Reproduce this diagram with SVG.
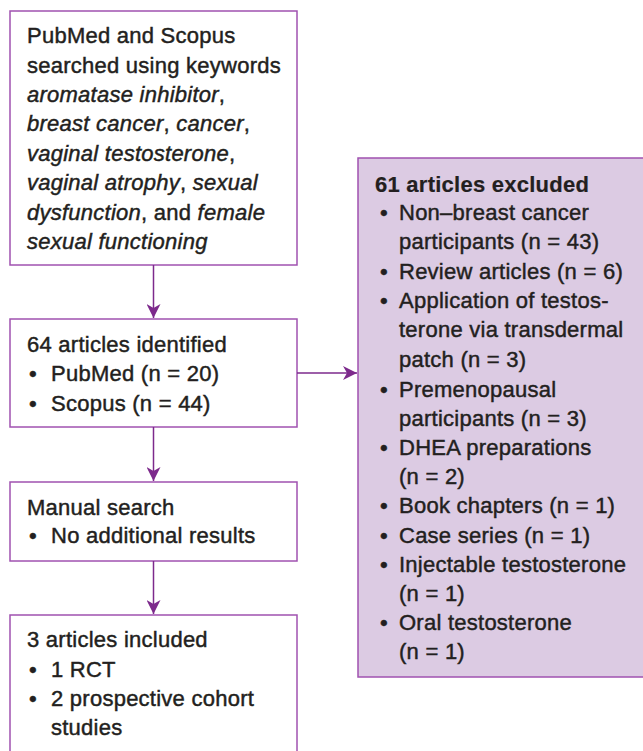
<svg xmlns="http://www.w3.org/2000/svg" width="643" height="751" viewBox="0 0 643 751">
<defs>
<marker id="ah" markerWidth="14" markerHeight="14" refX="14" refY="7" orient="auto" markerUnits="userSpaceOnUse">
<path d="M0,0 L14,7 L0,14 L4,7 Z" fill="#7d2a8c"/>
</marker>
<style>
.box{fill:#ffffff;stroke:#a052b0;stroke-width:1.5}
.ex{fill:#dccbe3;stroke:#a052b0;stroke-width:1.5}
.t{font-family:"Liberation Sans",Arial,sans-serif;font-size:22px;fill:#231f20;stroke:#231f20;stroke-width:0.45px;letter-spacing:0.25px}
.b{font-weight:bold;stroke-width:0.2px}
.i{font-style:italic}
.c{stroke:#7d2a8c;stroke-width:1.5;fill:none}
</style>
</defs>
<rect width="643" height="751" fill="#ffffff"/>
<g id="search">
<rect class="box" x="10" y="11" width="287" height="254"/>
<text class="t" x="27" y="43">PubMed and Scopus</text>
<text class="t" x="27" y="73">searched using keywords</text>
<text class="t" x="27" y="102"><tspan class="i">aromatase inhibitor</tspan>,</text>
<text class="t" x="27" y="131"><tspan class="i">breast cancer</tspan>, <tspan class="i">cancer</tspan>,</text>
<text class="t" x="27" y="161"><tspan class="i">vaginal testosterone</tspan>,</text>
<text class="t" x="27" y="190"><tspan class="i">vaginal atrophy</tspan>, <tspan class="i">sexual</tspan></text>
<text class="t" x="27" y="220"><tspan class="i">dysfunction</tspan>, and <tspan class="i">female</tspan></text>
<text class="t" x="27" y="249"><tspan class="i">sexual functioning</tspan></text>
</g>
<g id="identified">
<rect class="box" x="10" y="319" width="287" height="108"/>
<text class="t" x="27" y="352">64 articles identified</text>
<text class="t" x="29" y="381">•</text><text class="t" x="51" y="381">PubMed (n = 20)</text>
<text class="t" x="29" y="411">•</text><text class="t" x="51" y="411">Scopus (n = 44)</text>
</g>
<g id="manual">
<rect class="box" x="10" y="482" width="287" height="79"/>
<text class="t" x="27" y="515">Manual search</text>
<text class="t" x="29" y="543">•</text><text class="t" x="51" y="543">No additional results</text>
</g>
<g id="included">
<rect class="box" x="10" y="615" width="287" height="150"/>
<text class="t" x="27" y="647">3 articles included</text>
<text class="t" x="29" y="677">•</text><text class="t" x="51" y="677">1 RCT</text>
<text class="t" x="29" y="706">•</text><text class="t" x="51" y="706">2 prospective cohort</text>
<text class="t" x="51" y="735">studies</text>
</g>
<g id="excluded">
<rect class="ex" x="358" y="158" width="300" height="519"/>
<text class="t b" x="375" y="192">61 articles excluded</text>
<g class="t">
<text x="380" y="220">•</text><text x="399" y="220">Non–breast cancer</text>
<text x="399" y="249">participants (n = 43)</text>
<text x="380" y="279">•</text><text x="399" y="279">Review articles (n = 6)</text>
<text x="380" y="308">•</text><text x="399" y="308">Application of testos-</text>
<text x="399" y="337">terone via transdermal</text>
<text x="399" y="367">patch (n = 3)</text>
<text x="380" y="397">•</text><text x="399" y="397">Premenopausal</text>
<text x="399" y="426">participants (n = 3)</text>
<text x="380" y="455">•</text><text x="399" y="455">DHEA preparations</text>
<text x="399" y="484">(n = 2)</text>
<text x="380" y="513">•</text><text x="399" y="513">Book chapters (n = 1)</text>
<text x="380" y="543">•</text><text x="399" y="543">Case series (n = 1)</text>
<text x="380" y="572">•</text><text x="399" y="572">Injectable testosterone</text>
<text x="399" y="601">(n = 1)</text>
<text x="380" y="630">•</text><text x="399" y="630">Oral testosterone</text>
<text x="399" y="659">(n = 1)</text>
</g>
</g>
<g id="connectors">
<line class="c" x1="153.5" y1="265" x2="153.5" y2="318" marker-end="url(#ah)"/>
<line class="c" x1="297" y1="373" x2="357" y2="373" marker-end="url(#ah)"/>
<line class="c" x1="153.5" y1="427" x2="153.5" y2="481" marker-end="url(#ah)"/>
<line class="c" x1="153.5" y1="561" x2="153.5" y2="614" marker-end="url(#ah)"/>
</g>
</svg>
